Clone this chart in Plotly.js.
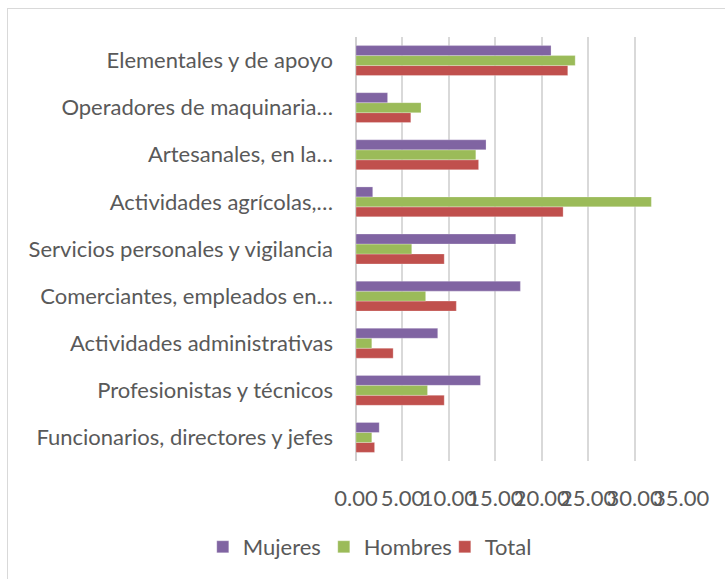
<!DOCTYPE html>
<html>
<head>
<meta charset="utf-8">
<script src="https://cdn.plot.ly/plotly-3.0.1.min.js"></script>
<style>
  body { margin: 0; background: #fff; }
  #wrap { position: relative; width: 725px; height: 579px; }
  #frame { position: absolute; left: 7px; top: 8px; right: -2px; bottom: -2px;
           border-left: 1.5px solid #d9d9d9; border-top: 1.5px solid #d9d9d9; pointer-events: none; }
  #chart { position: absolute; left: 0; top: 0; width: 725px; height: 579px; }
</style>
</head>
<body>
<div id="wrap">
  <div id="chart"></div>
  <div id="frame"></div>
</div>
<script>
// categorías (de abajo hacia arriba)
const categorias = [
  "Funcionarios, directores y jefes",
  "Profesionistas y técnicos",
  "Actividades administrativas",
  "Comerciantes, empleados en…",
  "Servicios personales y vigilancia",
  "Actividades agrícolas,…",
  "Artesanales, en la…",
  "Operadores de maquinaria…",
  "Elementales y de apoyo"
];

const mujeres = [2.5, 13.4, 8.8, 17.7, 17.2, 1.8, 14.0, 3.4, 21.0];
const hombres = [1.7, 7.7, 1.7, 7.5, 6.0, 31.8, 12.9, 7.0, 23.6];
const total   = [2.0, 9.5, 4.0, 10.8, 9.5, 22.3, 13.2, 5.9, 22.8];

const ticksX = [0, 5, 10, 15, 20, 25, 30, 35];
const ticksXTexto = ["0.00", "5.00", "10.00", "15.00", "20.00", "25.00", "30.00", "35.00"];

const fuente = { family: "Lato, 'Open Sans', sans-serif", size: 22, color: "#595959" };

function barra(nombre, valores, color) {
  return {
    type: "bar",
    orientation: "h",
    name: nombre,
    x: valores,
    y: categorias,
    marker: { color: color, line: { color: "rgba(255,255,255,0.5)", width: 0.5 } },
    hoverinfo: "x+name"
  };
}

// orden de trazas: la primera queda abajo dentro de cada grupo
const datos = [
  barra("Total", total, "#C0504D"),
  barra("Hombres", hombres, "#9BBB59"),
  barra("Mujeres", mujeres, "#8064A2")
];

const layout = {
  width: 725,
  height: 579,
  margin: { l: 356, r: 43, t: 37, b: 117 },
  paper_bgcolor: "rgba(0,0,0,0)",
  plot_bgcolor: "rgba(0,0,0,0)",
  barmode: "group",
  bargap: 0.365,
  bargroupgap: 0,
  font: fuente,
  showlegend: true,
  legend: {
    orientation: "h",
    traceorder: "reversed",
    x: -0.47,
    xanchor: "left",
    y: -0.2,
    yanchor: "middle",
    font: fuente,
    itemwidth: 30,
    entrywidth: 76,
    entrywidthmode: "pixels"
  },
  xaxis: {
    range: [0, 35.1],
    tickvals: ticksX,
    ticktext: ticksXTexto,
    tickangle: 0,
    showgrid: true,
    gridcolor: "#d9d9d9",
    gridwidth: 1.5,
    zeroline: true,
    zerolinecolor: "#d0d0d0",
    zerolinewidth: 1.5,
    ticks: "",
    ticklabelstandoff: 22,
    tickfont: fuente,
    fixedrange: true
  },
  yaxis: {
    type: "category",
    categoryorder: "array",
    categoryarray: categorias,
    showgrid: false,
    ticks: "",
    ticklabelstandoff: 22,
    tickfont: fuente,
    fixedrange: true
  }
};

Plotly.newPlot("chart", datos, layout, { displayModeBar: false, responsive: false });
</script>
</body>
</html>
